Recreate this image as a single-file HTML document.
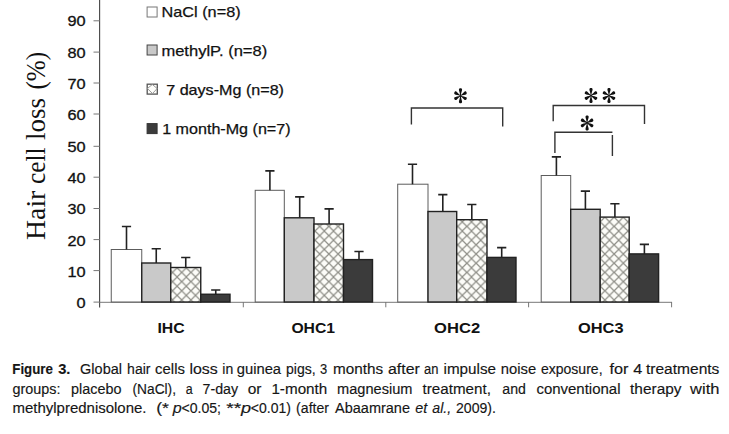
<!DOCTYPE html>
<html><head><meta charset="utf-8"><title>Figure 3</title>
<style>
html,body{margin:0;padding:0;background:#fff;}
body{width:729px;height:434px;overflow:hidden;position:relative;font-family:"Liberation Sans",sans-serif;}
svg{position:absolute;left:0;top:0;}
text{font-family:"Liberation Sans",sans-serif;}
.ser{font-family:"Liberation Serif",serif;}
</style></head><body>
<svg width="729" height="434" viewBox="0 0 729 434">
<defs>
<pattern id="hatch" width="9.2" height="9.2" patternUnits="userSpaceOnUse" patternTransform="translate(2.3,1)">
<rect width="9.2" height="9.2" fill="#fcfcf8"/>
<path d="M-1 -1L10.2 10.2M10.2 -1L-1 10.2" stroke="#8d8d86" stroke-width="1.2"/>
</pattern>
</defs>

<g stroke="#4a4a4a" stroke-width="1.15" fill="none">
<line x1="99.6" y1="0" x2="99.6" y2="307.5"/>
</g>
<g stroke="#777" stroke-width="1" fill="none">
<line x1="99.5" y1="302.3" x2="672" y2="302.3"/>
<line x1="93.5" y1="302.10" x2="99.8" y2="302.10"/>
<line x1="93.5" y1="270.60" x2="99.8" y2="270.60"/>
<line x1="93.5" y1="239.60" x2="99.8" y2="239.60"/>
<line x1="93.5" y1="208.50" x2="99.8" y2="208.50"/>
<line x1="93.5" y1="177.20" x2="99.8" y2="177.20"/>
<line x1="93.5" y1="146.30" x2="99.8" y2="146.30"/>
<line x1="93.5" y1="114.00" x2="99.8" y2="114.00"/>
<line x1="93.5" y1="83.00" x2="99.8" y2="83.00"/>
<line x1="93.5" y1="52.10" x2="99.8" y2="52.10"/>
<line x1="93.5" y1="20.80" x2="99.8" y2="20.80"/>
<line x1="243.3" y1="302" x2="243.3" y2="307.3"/>
<line x1="385.8" y1="302" x2="385.8" y2="307.3"/>
<line x1="528.6" y1="302" x2="528.6" y2="307.3"/>
<line x1="671.6" y1="302" x2="671.6" y2="307.3"/>
</g>
<g font-size="15.1" fill="#111" stroke="#111" stroke-width="0.3" text-anchor="end">
<text transform="translate(85.6,308.30) scale(1.08,1)" x="0" y="0">0</text>
<text transform="translate(85.6,276.73) scale(1.08,1)" x="0" y="0">10</text>
<text transform="translate(85.6,245.65) scale(1.08,1)" x="0" y="0">20</text>
<text transform="translate(85.6,214.47) scale(1.08,1)" x="0" y="0">30</text>
<text transform="translate(85.6,183.10) scale(1.08,1)" x="0" y="0">40</text>
<text transform="translate(85.6,152.12) scale(1.08,1)" x="0" y="0">50</text>
<text transform="translate(85.6,119.75) scale(1.08,1)" x="0" y="0">60</text>
<text transform="translate(85.6,88.67) scale(1.08,1)" x="0" y="0">70</text>
<text transform="translate(85.6,57.70) scale(1.08,1)" x="0" y="0">80</text>
<text transform="translate(85.6,26.32) scale(1.08,1)" x="0" y="0">90</text>
</g>
<rect x="111.25" y="249.50" width="30.50" height="52.50" fill="#ffffff" stroke="#5c5c5c" stroke-width="1.0"/>
<rect x="141.75" y="263.00" width="29.00" height="39.00" fill="#c9c9c9" stroke="#222" stroke-width="1.4"/>
<rect x="170.75" y="267.50" width="30.00" height="34.50" fill="url(#hatch)" stroke="#222" stroke-width="1.4"/>
<rect x="200.75" y="294.25" width="29.25" height="7.75" fill="#3b3b3b" stroke="#222" stroke-width="1.4"/>
<path d="M126.50 249.50V226.50M121.90 226.50H131.10" stroke="#222" stroke-width="1.6" fill="none"/>
<path d="M156.25 263.00V248.75M151.65 248.75H160.85" stroke="#222" stroke-width="1.6" fill="none"/>
<path d="M185.75 267.50V257.50M181.15 257.50H190.35" stroke="#222" stroke-width="1.6" fill="none"/>
<path d="M215.75 294.25V290.00M211.15 290.00H220.35" stroke="#222" stroke-width="1.6" fill="none"/>
<rect x="255.20" y="190.30" width="29.10" height="111.70" fill="#ffffff" stroke="#5c5c5c" stroke-width="1.0"/>
<rect x="284.30" y="217.80" width="29.70" height="84.20" fill="#c9c9c9" stroke="#222" stroke-width="1.4"/>
<rect x="314.00" y="224.00" width="29.50" height="78.00" fill="url(#hatch)" stroke="#222" stroke-width="1.4"/>
<rect x="343.50" y="259.60" width="29.00" height="42.40" fill="#3b3b3b" stroke="#222" stroke-width="1.4"/>
<path d="M269.90 190.30V170.90M265.30 170.90H274.50" stroke="#222" stroke-width="1.6" fill="none"/>
<path d="M299.70 217.80V196.90M295.10 196.90H304.30" stroke="#222" stroke-width="1.6" fill="none"/>
<path d="M329.10 224.00V208.90M324.50 208.90H333.70" stroke="#222" stroke-width="1.6" fill="none"/>
<path d="M359.00 259.60V251.50M354.40 251.50H363.60" stroke="#222" stroke-width="1.6" fill="none"/>
<rect x="397.70" y="184.20" width="30.30" height="117.80" fill="#ffffff" stroke="#5c5c5c" stroke-width="1.0"/>
<rect x="428.00" y="211.50" width="28.70" height="90.50" fill="#c9c9c9" stroke="#222" stroke-width="1.4"/>
<rect x="456.70" y="219.70" width="30.30" height="82.30" fill="url(#hatch)" stroke="#222" stroke-width="1.4"/>
<rect x="487.00" y="257.40" width="29.00" height="44.60" fill="#3b3b3b" stroke="#222" stroke-width="1.4"/>
<path d="M412.50 184.20V164.20M407.90 164.20H417.10" stroke="#222" stroke-width="1.6" fill="none"/>
<path d="M442.80 211.50V194.60M438.20 194.60H447.40" stroke="#222" stroke-width="1.6" fill="none"/>
<path d="M471.80 219.70V204.50M467.20 204.50H476.40" stroke="#222" stroke-width="1.6" fill="none"/>
<path d="M501.70 257.40V247.60M497.10 247.60H506.30" stroke="#222" stroke-width="1.6" fill="none"/>
<rect x="541.20" y="175.50" width="29.50" height="126.50" fill="#ffffff" stroke="#5c5c5c" stroke-width="1.0"/>
<rect x="570.70" y="209.30" width="29.50" height="92.70" fill="#c9c9c9" stroke="#222" stroke-width="1.4"/>
<rect x="600.20" y="217.10" width="29.00" height="84.90" fill="url(#hatch)" stroke="#222" stroke-width="1.4"/>
<rect x="629.20" y="253.90" width="29.40" height="48.10" fill="#3b3b3b" stroke="#222" stroke-width="1.4"/>
<path d="M556.40 175.50V156.90M551.80 156.90H561.00" stroke="#222" stroke-width="1.6" fill="none"/>
<path d="M585.40 209.30V191.10M580.80 191.10H590.00" stroke="#222" stroke-width="1.6" fill="none"/>
<path d="M614.90 217.10V203.70M610.30 203.70H619.50" stroke="#222" stroke-width="1.6" fill="none"/>
<path d="M644.40 253.90V244.40M639.80 244.40H649.00" stroke="#222" stroke-width="1.6" fill="none"/>
<g stroke="#333" stroke-width="1.4" fill="none">
<path d="M411.4 124.4V108H502.7V126.4"/>
<path d="M553.2 121.2V105.5H644.5V123.9"/>
<path d="M554.9 153V132.2H612.4M612.4 135V156"/>
</g>
<g fill="#111">
<path transform="translate(460.50,95.70) rotate(0)" d="M-0.35 0 C-0.5 -3.04 -1.60 -4.71 -1.60 -6.23 C-1.52 -7.90 1.52 -7.90 1.60 -6.23 C1.60 -4.71 0.5 -3.04 0.35 0Z"/>
<path transform="translate(460.50,95.70) rotate(60)" d="M-0.35 0 C-0.5 -2.82 -1.60 -4.37 -1.60 -5.78 C-1.52 -7.33 1.52 -7.33 1.60 -5.78 C1.60 -4.37 0.5 -2.82 0.35 0Z"/>
<path transform="translate(460.50,95.70) rotate(120)" d="M-0.35 0 C-0.5 -2.82 -1.60 -4.37 -1.60 -5.78 C-1.52 -7.33 1.52 -7.33 1.60 -5.78 C1.60 -4.37 0.5 -2.82 0.35 0Z"/>
<path transform="translate(460.50,95.70) rotate(180)" d="M-0.35 0 C-0.5 -3.04 -1.60 -4.71 -1.60 -6.23 C-1.52 -7.90 1.52 -7.90 1.60 -6.23 C1.60 -4.71 0.5 -3.04 0.35 0Z"/>
<path transform="translate(460.50,95.70) rotate(240)" d="M-0.35 0 C-0.5 -2.82 -1.60 -4.37 -1.60 -5.78 C-1.52 -7.33 1.52 -7.33 1.60 -5.78 C1.60 -4.37 0.5 -2.82 0.35 0Z"/>
<path transform="translate(460.50,95.70) rotate(300)" d="M-0.35 0 C-0.5 -2.82 -1.60 -4.37 -1.60 -5.78 C-1.52 -7.33 1.52 -7.33 1.60 -5.78 C1.60 -4.37 0.5 -2.82 0.35 0Z"/>
<path transform="translate(591.00,95.60) rotate(0)" d="M-0.35 0 C-0.5 -3.04 -1.60 -4.71 -1.60 -6.23 C-1.52 -7.90 1.52 -7.90 1.60 -6.23 C1.60 -4.71 0.5 -3.04 0.35 0Z"/>
<path transform="translate(591.00,95.60) rotate(60)" d="M-0.35 0 C-0.5 -2.82 -1.60 -4.37 -1.60 -5.78 C-1.52 -7.33 1.52 -7.33 1.60 -5.78 C1.60 -4.37 0.5 -2.82 0.35 0Z"/>
<path transform="translate(591.00,95.60) rotate(120)" d="M-0.35 0 C-0.5 -2.82 -1.60 -4.37 -1.60 -5.78 C-1.52 -7.33 1.52 -7.33 1.60 -5.78 C1.60 -4.37 0.5 -2.82 0.35 0Z"/>
<path transform="translate(591.00,95.60) rotate(180)" d="M-0.35 0 C-0.5 -3.04 -1.60 -4.71 -1.60 -6.23 C-1.52 -7.90 1.52 -7.90 1.60 -6.23 C1.60 -4.71 0.5 -3.04 0.35 0Z"/>
<path transform="translate(591.00,95.60) rotate(240)" d="M-0.35 0 C-0.5 -2.82 -1.60 -4.37 -1.60 -5.78 C-1.52 -7.33 1.52 -7.33 1.60 -5.78 C1.60 -4.37 0.5 -2.82 0.35 0Z"/>
<path transform="translate(591.00,95.60) rotate(300)" d="M-0.35 0 C-0.5 -2.82 -1.60 -4.37 -1.60 -5.78 C-1.52 -7.33 1.52 -7.33 1.60 -5.78 C1.60 -4.37 0.5 -2.82 0.35 0Z"/>
<path transform="translate(609.00,95.60) rotate(0)" d="M-0.35 0 C-0.5 -3.04 -1.60 -4.71 -1.60 -6.23 C-1.52 -7.90 1.52 -7.90 1.60 -6.23 C1.60 -4.71 0.5 -3.04 0.35 0Z"/>
<path transform="translate(609.00,95.60) rotate(60)" d="M-0.35 0 C-0.5 -2.82 -1.60 -4.37 -1.60 -5.78 C-1.52 -7.33 1.52 -7.33 1.60 -5.78 C1.60 -4.37 0.5 -2.82 0.35 0Z"/>
<path transform="translate(609.00,95.60) rotate(120)" d="M-0.35 0 C-0.5 -2.82 -1.60 -4.37 -1.60 -5.78 C-1.52 -7.33 1.52 -7.33 1.60 -5.78 C1.60 -4.37 0.5 -2.82 0.35 0Z"/>
<path transform="translate(609.00,95.60) rotate(180)" d="M-0.35 0 C-0.5 -3.04 -1.60 -4.71 -1.60 -6.23 C-1.52 -7.90 1.52 -7.90 1.60 -6.23 C1.60 -4.71 0.5 -3.04 0.35 0Z"/>
<path transform="translate(609.00,95.60) rotate(240)" d="M-0.35 0 C-0.5 -2.82 -1.60 -4.37 -1.60 -5.78 C-1.52 -7.33 1.52 -7.33 1.60 -5.78 C1.60 -4.37 0.5 -2.82 0.35 0Z"/>
<path transform="translate(609.00,95.60) rotate(300)" d="M-0.35 0 C-0.5 -2.82 -1.60 -4.37 -1.60 -5.78 C-1.52 -7.33 1.52 -7.33 1.60 -5.78 C1.60 -4.37 0.5 -2.82 0.35 0Z"/>
<path transform="translate(587.10,122.90) rotate(0)" d="M-0.35 0 C-0.5 -3.04 -1.60 -4.71 -1.60 -6.23 C-1.52 -7.90 1.52 -7.90 1.60 -6.23 C1.60 -4.71 0.5 -3.04 0.35 0Z"/>
<path transform="translate(587.10,122.90) rotate(60)" d="M-0.35 0 C-0.5 -2.82 -1.60 -4.37 -1.60 -5.78 C-1.52 -7.33 1.52 -7.33 1.60 -5.78 C1.60 -4.37 0.5 -2.82 0.35 0Z"/>
<path transform="translate(587.10,122.90) rotate(120)" d="M-0.35 0 C-0.5 -2.82 -1.60 -4.37 -1.60 -5.78 C-1.52 -7.33 1.52 -7.33 1.60 -5.78 C1.60 -4.37 0.5 -2.82 0.35 0Z"/>
<path transform="translate(587.10,122.90) rotate(180)" d="M-0.35 0 C-0.5 -3.04 -1.60 -4.71 -1.60 -6.23 C-1.52 -7.90 1.52 -7.90 1.60 -6.23 C1.60 -4.71 0.5 -3.04 0.35 0Z"/>
<path transform="translate(587.10,122.90) rotate(240)" d="M-0.35 0 C-0.5 -2.82 -1.60 -4.37 -1.60 -5.78 C-1.52 -7.33 1.52 -7.33 1.60 -5.78 C1.60 -4.37 0.5 -2.82 0.35 0Z"/>
<path transform="translate(587.10,122.90) rotate(300)" d="M-0.35 0 C-0.5 -2.82 -1.60 -4.37 -1.60 -5.78 C-1.52 -7.33 1.52 -7.33 1.60 -5.78 C1.60 -4.37 0.5 -2.82 0.35 0Z"/>
</g>
<rect x="147.1" y="7.0" width="10" height="10" fill="#ffffff" stroke="#777" stroke-width="1"/>
<text x="161.6" y="17.0" font-size="15" fill="#111" stroke="#111" stroke-width="0.25" textLength="79.0" lengthAdjust="spacingAndGlyphs">NaCl (n=8)</text>
<rect x="147.1" y="45.0" width="10" height="10" fill="#c9c9c9" stroke="#444" stroke-width="1"/>
<text x="161.4" y="56.0" font-size="15" fill="#111" stroke="#111" stroke-width="0.25" textLength="105.8" lengthAdjust="spacingAndGlyphs">methylP. (n=8)</text>
<rect x="147.2" y="84.2" width="10.1" height="9.9" fill="#fdfdfa" stroke="#555" stroke-width="1.3"/>
<path d="M147.4 88.5L152.3 84.5L157.2 88.5L152.5 93.5Z" fill="none" stroke="#999" stroke-width="1"/>
<text x="166.2" y="95.0" font-size="15" fill="#111" stroke="#111" stroke-width="0.25" textLength="117.8" lengthAdjust="spacingAndGlyphs">7 days-Mg (n=8)</text>
<rect x="147.1" y="123.6" width="10" height="10" fill="#3b3b3b" stroke="#333" stroke-width="1"/>
<text x="162.2" y="134.0" font-size="15" fill="#111" stroke="#111" stroke-width="0.25" textLength="128.4" lengthAdjust="spacingAndGlyphs">1 month-Mg (n=7)</text>
<text x="157.4" y="332.9" font-weight="bold" font-size="14" fill="#111" textLength="27.2" lengthAdjust="spacingAndGlyphs">IHC</text>
<text x="291.4" y="332.9" font-weight="bold" font-size="14" fill="#111" textLength="43.7" lengthAdjust="spacingAndGlyphs">OHC1</text>
<text x="434.1" y="332.9" font-weight="bold" font-size="14" fill="#111" textLength="46.0" lengthAdjust="spacingAndGlyphs">OHC2</text>
<text x="578.0" y="332.9" font-weight="bold" font-size="14" fill="#111" textLength="45.6" lengthAdjust="spacingAndGlyphs">OHC3</text>
<text class="ser" transform="translate(44.8,239.9) rotate(-90) scale(1,1.05)" font-size="26.6" fill="#111" textLength="49.2" lengthAdjust="spacingAndGlyphs">Hair</text>
<text class="ser" transform="translate(44.8,184.0) rotate(-90) scale(1,1.05)" font-size="26.6" fill="#111" textLength="36.5" lengthAdjust="spacingAndGlyphs">cell</text>
<text class="ser" transform="translate(44.8,139.9) rotate(-90) scale(1,1.05)" font-size="26.6" fill="#111" textLength="42.0" lengthAdjust="spacingAndGlyphs">loss</text>
<text class="ser" transform="translate(44.8,89.6) rotate(-90) scale(1,1.05)" font-size="26.6" fill="#111" textLength="37.6" lengthAdjust="spacingAndGlyphs">(%)</text>
<g font-size="14.7" fill="#161616" stroke="#161616" stroke-width="0.15">
<text x="12.3" y="373.5" font-weight="bold" textLength="40.6" lengthAdjust="spacingAndGlyphs">Figure</text>
<text x="58.2" y="373.5" font-weight="bold" textLength="12.2" lengthAdjust="spacingAndGlyphs">3.</text>
<text x="80.1" y="373.5" textLength="41.9" lengthAdjust="spacingAndGlyphs">Global</text>
<text x="127.1" y="373.5" textLength="23.4" lengthAdjust="spacingAndGlyphs">hair</text>
<text x="155.1" y="373.5" textLength="29.8" lengthAdjust="spacingAndGlyphs">cells</text>
<text x="189.4" y="373.5" textLength="28.4" lengthAdjust="spacingAndGlyphs">loss</text>
<text x="222.3" y="373.5" textLength="10.9" lengthAdjust="spacingAndGlyphs">in</text>
<text x="236.7" y="373.5" textLength="44.4" lengthAdjust="spacingAndGlyphs">guinea</text>
<text x="286.0" y="373.5" textLength="29.7" lengthAdjust="spacingAndGlyphs">pigs,</text>
<text x="320.0" y="373.5" textLength="7.2" lengthAdjust="spacingAndGlyphs">3</text>
<text x="333.0" y="373.5" textLength="50.1" lengthAdjust="spacingAndGlyphs">months</text>
<text x="388.0" y="373.5" textLength="31.9" lengthAdjust="spacingAndGlyphs">after</text>
<text x="424.0" y="373.5" textLength="14.4" lengthAdjust="spacingAndGlyphs">an</text>
<text x="443.5" y="373.5" textLength="52.5" lengthAdjust="spacingAndGlyphs">impulse</text>
<text x="500.8" y="373.5" textLength="35.4" lengthAdjust="spacingAndGlyphs">noise</text>
<text x="540.9" y="373.5" textLength="61.7" lengthAdjust="spacingAndGlyphs">exposure,</text>
<text x="609.5" y="373.5" textLength="19.0" lengthAdjust="spacingAndGlyphs">for</text>
<text x="633.3" y="373.5" textLength="9.0" lengthAdjust="spacingAndGlyphs">4</text>
<text x="645.9" y="373.5" textLength="73.5" lengthAdjust="spacingAndGlyphs">treatments</text>
<text x="12.5" y="393.5" textLength="48.0" lengthAdjust="spacingAndGlyphs">groups:</text>
<text x="71.1" y="393.5" textLength="50.4" lengthAdjust="spacingAndGlyphs">placebo</text>
<text x="132.5" y="393.5" textLength="43.5" lengthAdjust="spacingAndGlyphs">(NaCl),</text>
<text x="185.8" y="393.5" textLength="6.9" lengthAdjust="spacingAndGlyphs">a</text>
<text x="202.5" y="393.5" textLength="35.6" lengthAdjust="spacingAndGlyphs">7-day</text>
<text x="247.7" y="393.5" textLength="13.8" lengthAdjust="spacingAndGlyphs">or</text>
<text x="271.4" y="393.5" textLength="55.9" lengthAdjust="spacingAndGlyphs">1-month</text>
<text x="337.1" y="393.5" textLength="75.4" lengthAdjust="spacingAndGlyphs">magnesium</text>
<text x="422.6" y="393.5" textLength="68.3" lengthAdjust="spacingAndGlyphs">treatment,</text>
<text x="502.3" y="393.5" textLength="23.6" lengthAdjust="spacingAndGlyphs">and</text>
<text x="536.4" y="393.5" textLength="84.1" lengthAdjust="spacingAndGlyphs">conventional</text>
<text x="630.1" y="393.5" textLength="51.4" lengthAdjust="spacingAndGlyphs">therapy</text>
<text x="690.1" y="393.5" textLength="29.3" lengthAdjust="spacingAndGlyphs">with</text>
<text x="12.5" y="413.2" textLength="134.0" lengthAdjust="spacingAndGlyphs">methylprednisolone.</text>
<text x="156.2" y="413.2" textLength="12.8" lengthAdjust="spacingAndGlyphs">(*</text>
<text x="172.8" y="413.2" font-style="italic" textLength="9.0" lengthAdjust="spacingAndGlyphs">p</text>
<text x="181.5" y="413.2" textLength="39.5" lengthAdjust="spacingAndGlyphs">&lt;0.05;</text>
<text x="226.2" y="413.2" textLength="15.1" lengthAdjust="spacingAndGlyphs">**</text>
<text x="241.1" y="413.2" font-style="italic" textLength="10.1" lengthAdjust="spacingAndGlyphs">p</text>
<text x="250.8" y="413.2" textLength="40.1" lengthAdjust="spacingAndGlyphs">&lt;0.01)</text>
<text x="296.1" y="413.2" textLength="32.9" lengthAdjust="spacingAndGlyphs">(after</text>
<text x="335.0" y="413.2" textLength="75.0" lengthAdjust="spacingAndGlyphs">Abaamrane</text>
<text x="415.3" y="413.2" font-style="italic" textLength="12.0" lengthAdjust="spacingAndGlyphs">et</text>
<text x="432.3" y="413.2" font-style="italic" textLength="18.8" lengthAdjust="spacingAndGlyphs">al.,</text>
<text x="456.0" y="413.2" textLength="40.0" lengthAdjust="spacingAndGlyphs">2009).</text>
</g>
</svg>
</body></html>
